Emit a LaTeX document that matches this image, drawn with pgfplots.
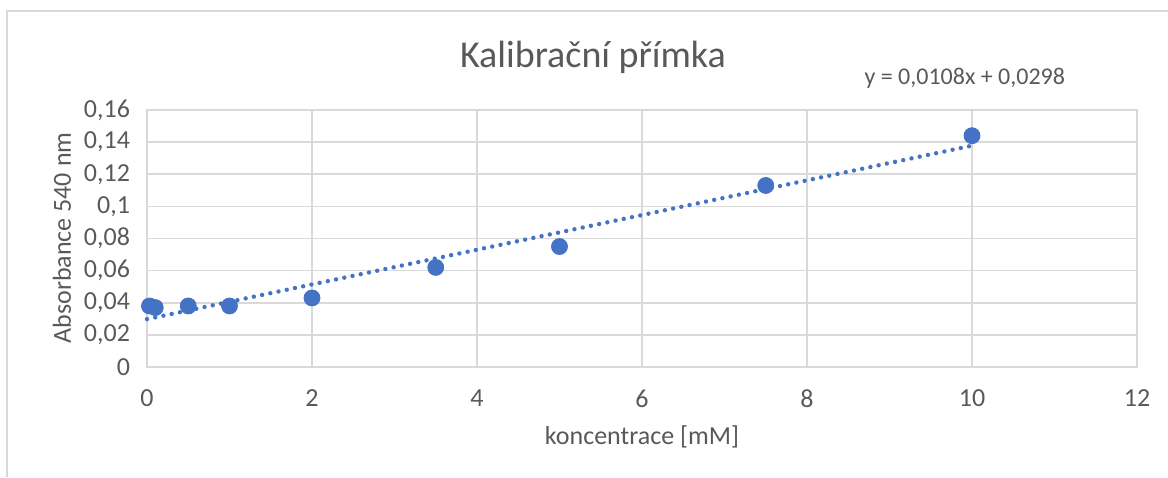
\documentclass[border=0pt]{standalone}
\usepackage{pgfplots}
\pgfplotsset{compat=1.18}
\usepackage{fontspec}
\setmainfont{Carlito}
\definecolor{txt}{HTML}{595959}
\definecolor{grd}{HTML}{D9D9D9}
\definecolor{dots}{HTML}{4472C4}
\begin{document}
\begin{tikzpicture}
\useasboundingbox (0,0) rectangle (584pt,238.5pt);
\draw[grd, line width=0.8pt] (3.5pt,0) -- (3.5pt,233pt) -- (584pt,233pt);
\begin{axis}[
  at={(73.5pt,55pt)}, anchor=south west,
  scale only axis, width=495pt, height=128.5pt,
  xmin=0, xmax=12, ymin=0, ymax=0.16,
  xtick={0,2,...,12}, ytick={0,0.02,...,0.16},
  scaled y ticks=false,
  /pgf/number format/assume math mode=true,
  /pgf/number format/.cd, fixed, precision=4, use comma, 1000 sep={},
  /pgfplots/.cd,
  grid=major, major grid style={grd, line width=0.8pt},
  axis line style={grd, line width=0.8pt},
  tick style={draw=none},
  ticklabel style={font=\fontsize{13}{15}\selectfont, text=txt},
  yticklabel style={xshift=-5pt},
  xticklabel style={yshift=-8pt},
  clip=false,
]
\addplot[dots, line width=2.2pt, line cap=round, dash pattern=on 0pt off 4.2pt] coordinates {(0,0.0298) (10,0.1378)};
\addplot[only marks, mark=*, mark size=4pt, dots, mark options={draw=dots, fill=dots}] coordinates {
(0.03,0.038) (0.1,0.037) (0.5,0.038) (1,0.038) (2,0.043) (3.5,0.062) (5,0.075) (7.5,0.113) (10,0.144)};
\node[text=txt, font=\fontsize{19}{22}\selectfont] at (rel axis cs:0.4505,1.206) {Kalibrační přímka};
\node[text=txt, font=\fontsize{12}{14}\selectfont] at (rel axis cs:0.826,1.125) {y = 0,0108x + 0,0298};
\node[text=txt, font=\fontsize{13}{15}\selectfont] at (rel axis cs:0.5,-0.272) {koncentrace [mM]};
\node[text=txt, font=\fontsize{13}{15}\selectfont, rotate=90] at (rel axis cs:-0.0859,0.502) {Absorbance 540 nm};
\end{axis}
\end{tikzpicture}
\end{document}
